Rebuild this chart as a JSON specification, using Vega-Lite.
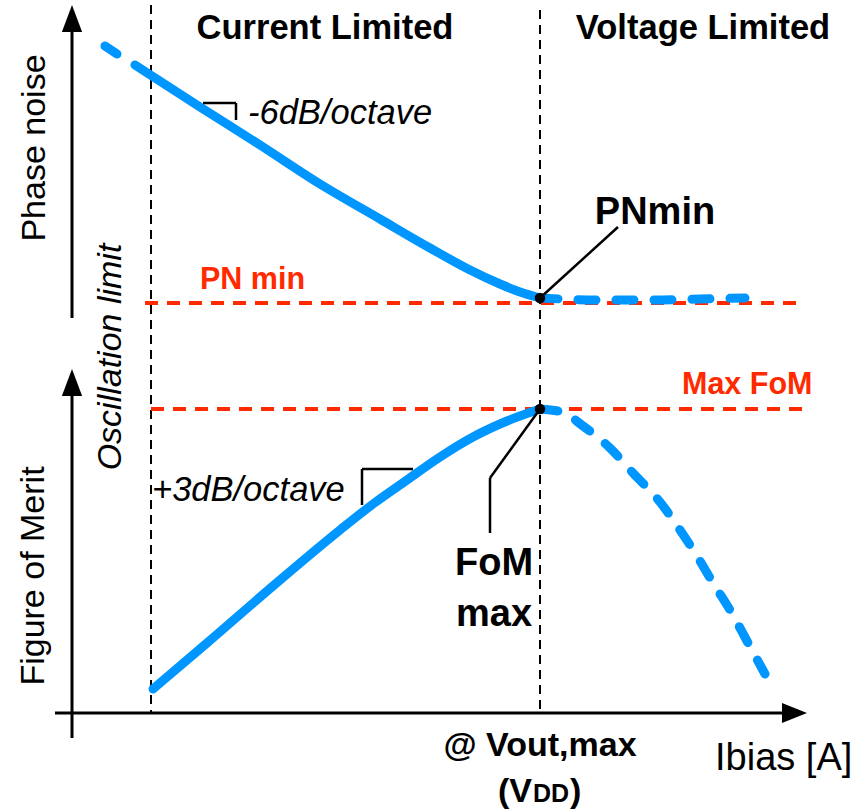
{
  "$schema": "https://vega.github.io/schema/vega-lite/v6.json",
  "width": 863,
  "height": 812,
  "autosize": "none",
  "padding": 0,
  "background": "white",
  "config": {"view": {"stroke": null}},
  "datasets": {
    "axes": [
      {"x": 72, "y": 318, "x2": 72, "y2": 28},
      {"x": 72, "y": 738, "x2": 72, "y2": 392},
      {"x": 55, "y": 713, "x2": 785, "y2": 713}
    ],
    "heads": [
      {"x": 72, "y": 18.5, "dir": "up"},
      {"x": 72, "y": 382.5, "dir": "up"},
      {"x": 794.5, "y": 713, "dir": "right"}
    ],
    "limits": [
      {"x": 151, "y": 5, "x2": 151, "y2": 713},
      {"x": 540, "y": 10, "x2": 540, "y2": 713}
    ],
    "redlines": [
      {"x": 145, "y": 303, "x2": 800, "y2": 303},
      {"x": 151, "y": 409, "x2": 805, "y2": 409}
    ],
    "thin": [
      {"x": 203, "y": 103, "x2": 236, "y2": 103},
      {"x": 236, "y": 103, "x2": 236, "y2": 120},
      {"x": 362, "y": 469, "x2": 413, "y2": 469},
      {"x": 362, "y": 469, "x2": 362, "y2": 505},
      {"x": 540, "y": 298, "x2": 618, "y2": 227},
      {"x": 540, "y": 409, "x2": 490, "y2": 478},
      {"x": 490, "y": 478, "x2": 490, "y2": 533}
    ],
    "solid": [
      {"c": "pn", "x": 135, "y": 65},
      {"c": "pn", "x": 200, "y": 107},
      {"c": "pn", "x": 260, "y": 145},
      {"c": "pn", "x": 320, "y": 184},
      {"c": "pn", "x": 380, "y": 219},
      {"c": "pn", "x": 430, "y": 248},
      {"c": "pn", "x": 470, "y": 270},
      {"c": "pn", "x": 500, "y": 284},
      {"c": "pn", "x": 520, "y": 292},
      {"c": "pn", "x": 540, "y": 298},
      {"c": "fom", "x": 153, "y": 689},
      {"c": "fom", "x": 207, "y": 643},
      {"c": "fom", "x": 273, "y": 586},
      {"c": "fom", "x": 340, "y": 530},
      {"c": "fom", "x": 373, "y": 504},
      {"c": "fom", "x": 407, "y": 480},
      {"c": "fom", "x": 440, "y": 457},
      {"c": "fom", "x": 473, "y": 437},
      {"c": "fom", "x": 507, "y": 421},
      {"c": "fom", "x": 540, "y": 409}
    ],
    "dashed": [
      {"c": "pn0", "x": 105, "y": 46},
      {"c": "pn0", "x": 117, "y": 54},
      {"c": "pn1", "x": 540, "y": 298},
      {"c": "pn1", "x": 600, "y": 300},
      {"c": "pn1", "x": 650, "y": 300},
      {"c": "pn1", "x": 700, "y": 299},
      {"c": "pn1", "x": 745, "y": 298},
      {"c": "fom1", "x": 540, "y": 409},
      {"c": "fom1", "x": 562, "y": 412},
      {"c": "fom1", "x": 583, "y": 426},
      {"c": "fom1", "x": 610, "y": 448},
      {"c": "fom1", "x": 633, "y": 473},
      {"c": "fom1", "x": 660, "y": 502},
      {"c": "fom1", "x": 680, "y": 530},
      {"c": "fom1", "x": 697, "y": 556},
      {"c": "fom1", "x": 713, "y": 583},
      {"c": "fom1", "x": 730, "y": 610},
      {"c": "fom1", "x": 747, "y": 641},
      {"c": "fom1", "x": 765, "y": 674}
    ],
    "dots": [
      {"x": 540, "y": 298},
      {"x": 540, "y": 409}
    ]
  },
  "layer": [
    {
      "data": {"name": "limits"},
      "mark": {"type": "rule", "color": "black", "strokeWidth": 2, "strokeDash": [9, 6]},
      "encoding": {
        "x": {"field": "x", "type": "quantitative", "scale": {"domain": [0, 863], "nice": false, "zero": false}, "axis": null},
        "y": {"field": "y", "type": "quantitative", "scale": {"domain": [0, 812], "reverse": true, "nice": false, "zero": false}, "axis": null},
        "x2": {"field": "x2"},
        "y2": {"field": "y2"}
      }
    },
    {
      "data": {"name": "redlines"},
      "mark": {"type": "rule", "color": "#FF2A00", "strokeWidth": 4, "strokeDash": [13, 9]},
      "encoding": {
        "x": {"field": "x", "type": "quantitative", "scale": {"domain": [0, 863], "nice": false, "zero": false}, "axis": null},
        "y": {"field": "y", "type": "quantitative", "scale": {"domain": [0, 812], "reverse": true, "nice": false, "zero": false}, "axis": null},
        "x2": {"field": "x2"},
        "y2": {"field": "y2"}
      }
    },
    {
      "data": {"name": "axes"},
      "mark": {"type": "rule", "color": "black", "strokeWidth": 3},
      "encoding": {
        "x": {"field": "x", "type": "quantitative", "scale": {"domain": [0, 863], "nice": false, "zero": false}, "axis": null},
        "y": {"field": "y", "type": "quantitative", "scale": {"domain": [0, 812], "reverse": true, "nice": false, "zero": false}, "axis": null},
        "x2": {"field": "x2"},
        "y2": {"field": "y2"}
      }
    },
    {
      "data": {"name": "heads"},
      "transform": [{"filter": "datum.dir == 'up'"}],
      "mark": {"type": "point", "filled": true, "color": "black", "opacity": 1, "shape": "M0,-1L0.75,1L-0.75,1Z", "size": 729},
      "encoding": {
        "x": {"field": "x", "type": "quantitative", "scale": {"domain": [0, 863], "nice": false, "zero": false}, "axis": null},
        "y": {"field": "y", "type": "quantitative", "scale": {"domain": [0, 812], "reverse": true, "nice": false, "zero": false}, "axis": null}
      }
    },
    {
      "data": {"name": "heads"},
      "transform": [{"filter": "datum.dir == 'right'"}],
      "mark": {"type": "point", "filled": true, "color": "black", "opacity": 1, "shape": "M1,0L-1,0.8L-1,-0.8Z", "size": 625},
      "encoding": {
        "x": {"field": "x", "type": "quantitative", "scale": {"domain": [0, 863], "nice": false, "zero": false}, "axis": null},
        "y": {"field": "y", "type": "quantitative", "scale": {"domain": [0, 812], "reverse": true, "nice": false, "zero": false}, "axis": null}
      }
    },
    {
      "data": {"name": "solid"},
      "mark": {"type": "line", "color": "#0096FF", "strokeWidth": 9, "strokeCap": "round", "interpolate": "monotone"},
      "encoding": {
        "x": {"field": "x", "type": "quantitative", "scale": {"domain": [0, 863], "nice": false, "zero": false}, "axis": null},
        "y": {"field": "y", "type": "quantitative", "scale": {"domain": [0, 812], "reverse": true, "nice": false, "zero": false}, "axis": null},
        "detail": {"field": "c"}
      }
    },
    {
      "data": {"name": "dashed"},
      "mark": {"type": "line", "color": "#0096FF", "strokeWidth": 9, "strokeCap": "round", "strokeDash": [18, 20], "interpolate": "monotone"},
      "encoding": {
        "x": {"field": "x", "type": "quantitative", "scale": {"domain": [0, 863], "nice": false, "zero": false}, "axis": null},
        "y": {"field": "y", "type": "quantitative", "scale": {"domain": [0, 812], "reverse": true, "nice": false, "zero": false}, "axis": null},
        "detail": {"field": "c"}
      }
    },
    {
      "data": {"name": "thin"},
      "mark": {"type": "rule", "color": "black", "strokeWidth": 2.5},
      "encoding": {
        "x": {"field": "x", "type": "quantitative", "scale": {"domain": [0, 863], "nice": false, "zero": false}, "axis": null},
        "y": {"field": "y", "type": "quantitative", "scale": {"domain": [0, 812], "reverse": true, "nice": false, "zero": false}, "axis": null},
        "x2": {"field": "x2"},
        "y2": {"field": "y2"}
      }
    },
    {
      "data": {"name": "dots"},
      "mark": {"type": "circle", "color": "black", "opacity": 1, "size": 110},
      "encoding": {
        "x": {"field": "x", "type": "quantitative", "scale": {"domain": [0, 863], "nice": false, "zero": false}, "axis": null},
        "y": {"field": "y", "type": "quantitative", "scale": {"domain": [0, 812], "reverse": true, "nice": false, "zero": false}, "axis": null}
      }
    },
    {
      "data": {"values": [
        {"x": 325, "y": 39, "t": "Current Limited"},
        {"x": 703, "y": 39, "t": "Voltage Limited"}
      ]},
      "mark": {"type": "text", "font": "Liberation Sans", "fontWeight": "bold", "fontSize": 34.5, "align": "center", "baseline": "alphabetic", "color": "black"},
      "encoding": {
        "x": {"field": "x", "type": "quantitative", "scale": {"domain": [0, 863], "nice": false, "zero": false}, "axis": null},
        "y": {"field": "y", "type": "quantitative", "scale": {"domain": [0, 812], "reverse": true, "nice": false, "zero": false}, "axis": null},
        "text": {"field": "t"}
      }
    },
    {
      "data": {"values": [
        {"x": 655, "y": 224, "t": "PNmin"},
        {"x": 494, "y": 575, "t": "FoM"},
        {"x": 494, "y": 626, "t": "max"}
      ]},
      "mark": {"type": "text", "font": "Liberation Sans", "fontWeight": "bold", "fontSize": 38, "align": "center", "baseline": "alphabetic", "color": "black"},
      "encoding": {
        "x": {"field": "x", "type": "quantitative", "scale": {"domain": [0, 863], "nice": false, "zero": false}, "axis": null},
        "y": {"field": "y", "type": "quantitative", "scale": {"domain": [0, 812], "reverse": true, "nice": false, "zero": false}, "axis": null},
        "text": {"field": "t"}
      }
    },
    {
      "data": {"values": [
        {"x": 540, "y": 756, "t": "@ Vout,max"}
      ]},
      "mark": {"type": "text", "font": "Liberation Sans", "fontWeight": "bold", "fontSize": 34, "align": "center", "baseline": "alphabetic", "color": "black"},
      "encoding": {
        "x": {"field": "x", "type": "quantitative", "scale": {"domain": [0, 863], "nice": false, "zero": false}, "axis": null},
        "y": {"field": "y", "type": "quantitative", "scale": {"domain": [0, 812], "reverse": true, "nice": false, "zero": false}, "axis": null},
        "text": {"field": "t"}
      }
    },
    {
      "data": {"values": [
        {"x": 498, "y": 802, "t": "(V"},
        {"x": 570, "y": 802, "t": ")"}
      ]},
      "mark": {"type": "text", "font": "Liberation Sans", "fontWeight": "bold", "fontSize": 34, "align": "left", "baseline": "alphabetic", "color": "black"},
      "encoding": {
        "x": {"field": "x", "type": "quantitative", "scale": {"domain": [0, 863], "nice": false, "zero": false}, "axis": null},
        "y": {"field": "y", "type": "quantitative", "scale": {"domain": [0, 812], "reverse": true, "nice": false, "zero": false}, "axis": null},
        "text": {"field": "t"}
      }
    },
    {
      "data": {"values": [
        {"x": 533, "y": 802, "t": "DD"}
      ]},
      "mark": {"type": "text", "font": "Liberation Sans", "fontWeight": "bold", "fontSize": 25, "align": "left", "baseline": "alphabetic", "color": "black"},
      "encoding": {
        "x": {"field": "x", "type": "quantitative", "scale": {"domain": [0, 863], "nice": false, "zero": false}, "axis": null},
        "y": {"field": "y", "type": "quantitative", "scale": {"domain": [0, 812], "reverse": true, "nice": false, "zero": false}, "axis": null},
        "text": {"field": "t"}
      }
    },
    {
      "data": {"values": [
        {"x": 200, "y": 289, "t": "PN min"},
        {"x": 682, "y": 394, "t": "Max FoM"}
      ]},
      "mark": {"type": "text", "font": "Liberation Sans", "fontWeight": "bold", "fontSize": 30.5, "align": "left", "baseline": "alphabetic", "color": "#FF2A00"},
      "encoding": {
        "x": {"field": "x", "type": "quantitative", "scale": {"domain": [0, 863], "nice": false, "zero": false}, "axis": null},
        "y": {"field": "y", "type": "quantitative", "scale": {"domain": [0, 812], "reverse": true, "nice": false, "zero": false}, "axis": null},
        "text": {"field": "t"}
      }
    },
    {
      "data": {"values": [
        {"x": 248, "y": 124, "t": "-6dB/octave"},
        {"x": 152, "y": 501, "t": "+3dB/octave"}
      ]},
      "mark": {"type": "text", "font": "Liberation Sans", "fontStyle": "italic", "fontSize": 34.5, "align": "left", "baseline": "alphabetic", "color": "black"},
      "encoding": {
        "x": {"field": "x", "type": "quantitative", "scale": {"domain": [0, 863], "nice": false, "zero": false}, "axis": null},
        "y": {"field": "y", "type": "quantitative", "scale": {"domain": [0, 812], "reverse": true, "nice": false, "zero": false}, "axis": null},
        "text": {"field": "t"}
      }
    },
    {
      "data": {"values": [
        {"x": 715, "y": 770, "t": "Ibias [A]"}
      ]},
      "mark": {"type": "text", "font": "Liberation Sans", "fontSize": 38, "align": "left", "baseline": "alphabetic", "color": "black"},
      "encoding": {
        "x": {"field": "x", "type": "quantitative", "scale": {"domain": [0, 863], "nice": false, "zero": false}, "axis": null},
        "y": {"field": "y", "type": "quantitative", "scale": {"domain": [0, 812], "reverse": true, "nice": false, "zero": false}, "axis": null},
        "text": {"field": "t"}
      }
    },
    {
      "data": {"values": [
        {"x": 45, "y": 148, "t": "Phase noise"},
        {"x": 44, "y": 576, "t": "Figure of Merit"}
      ]},
      "mark": {"type": "text", "font": "Liberation Sans", "fontSize": 34, "angle": 270, "align": "center", "baseline": "alphabetic", "color": "black"},
      "encoding": {
        "x": {"field": "x", "type": "quantitative", "scale": {"domain": [0, 863], "nice": false, "zero": false}, "axis": null},
        "y": {"field": "y", "type": "quantitative", "scale": {"domain": [0, 812], "reverse": true, "nice": false, "zero": false}, "axis": null},
        "text": {"field": "t"}
      }
    },
    {
      "data": {"values": [
        {"x": 121, "y": 357, "t": "Oscillation limit"}
      ]},
      "mark": {"type": "text", "font": "Liberation Sans", "fontStyle": "italic", "fontSize": 34, "angle": 270, "align": "center", "baseline": "alphabetic", "color": "black"},
      "encoding": {
        "x": {"field": "x", "type": "quantitative", "scale": {"domain": [0, 863], "nice": false, "zero": false}, "axis": null},
        "y": {"field": "y", "type": "quantitative", "scale": {"domain": [0, 812], "reverse": true, "nice": false, "zero": false}, "axis": null},
        "text": {"field": "t"}
      }
    }
  ]
}
